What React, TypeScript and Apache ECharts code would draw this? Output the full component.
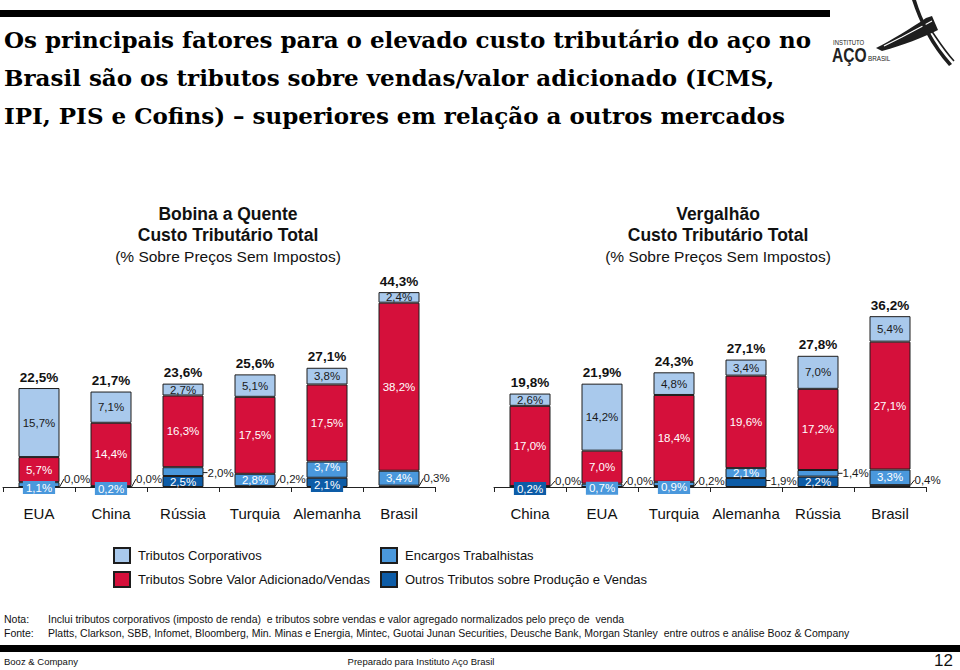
import React, { useEffect, useRef } from "react";
import * as echarts from "echarts";

// ---------- data ----------
const leftCats = ["EUA", "China", "Rússia", "Turquia", "Alemanha", "Brasil"];
const rightCats = ["China", "EUA", "Turquia", "Alemanha", "Rússia", "Brasil"];

const nameOutros = "Outros Tributos sobre Produção e Vendas";
const nameEncargos = "Encargos Trabalhistas";
const nameValor = "Tributos Sobre Valor Adicionado/Vendas";
const nameCorp = "Tributos Corporativos";

const leftOutros = [0.0, 0.0, 2.5, 0.2, 2.1, 0.3];
const leftEncargos = [1.1, 0.2, 2.0, 2.8, 3.7, 3.4];
const leftValor = [5.7, 14.4, 16.3, 17.5, 17.5, 38.2];
const leftCorp = [15.7, 7.1, 2.7, 5.1, 3.8, 2.4];
const leftTotal = [22.5, 21.7, 23.6, 25.6, 27.1, 44.3];

const rightOutros = [0.2, 0.0, 0.2, 1.9, 2.2, 0.4];
const rightEncargos = [0.0, 0.7, 0.9, 2.1, 1.4, 3.3];
const rightValor = [17.0, 7.0, 18.4, 19.6, 17.2, 27.1];
const rightCorp = [2.6, 14.2, 4.8, 3.4, 7.0, 5.4];
const rightTotal = [19.8, 21.9, 24.3, 27.1, 27.8, 36.2];

// ---------- label styling (how each small segment is labelled) ----------
// "in" = inside, "box" = inside with a filled box pushed down, "call" = callout to the right
const leftOutrosMode = ["call", "call", "in", "call", "box", "call"];
const leftEncargosMode = ["box", "box", "call", "in", "in", "in"];
const rightOutrosMode = ["box", "call", "call", "call", "in", "call"];
const rightEncargosMode = ["call", "box", "box", "in", "call", "in"];
const leftOutrosDy = [-8, -8, 0, -8, 3, -8];
const leftEncargosDy = [3, 2, 1, 0, -3, 0];
const rightOutrosDy = [2, -6, -6, -2, 0, -6];
const rightEncargosDy = [-5, 3, 3.5, 0, 0, 0];
const zeroDy = [0, 0, 0, 0, 0, 0];

const SANS = "'Liberation Sans', Arial, Helvetica, sans-serif";
const SERIF = "'DejaVu Serif', 'Liberation Serif', serif";

const C_CORP = "#a9c9ec";
const C_VALOR = "#d5103b";
const C_ENC = "#4a98dc";
const C_OUT = "#0d5ca7";
const BORDER = "#1d1d1d";

// logo shapes
echarts.graphic.registerShape(
  "logoBand",
  echarts.graphic.extendPath("M0 34 C14 27 34 15 50 4 L56 2 L62 16 C46 24 28 31 6 37 Z", {})
);
echarts.graphic.registerShape(
  "logoStroke",
  echarts.graphic.extendPath("M0 0 L4 0 C10 20 22 44 40 64 L37 66 C19 46 7 22 0 0 Z", {})
);

const fmt = (v: number) => v.toFixed(1).replace(".", ",") + "%";

function buildData(values: number[], modes: string[] | null, color: string, textColor: string) {
  return values.map((v, i) => {
    const mode = modes ? modes[i] : "in";
    if (mode === "call") {
      return {
        value: v,
        label: {
          show: true,
          position: "right",
          distance: 4,
          color: "#1a1a1a",
          fontSize: 11.5,
          fontFamily: SANS,
        },
        labelLine: { show: true, lineStyle: { color: "#1a1a1a", width: 1 } },
      };
    }
    if (mode === "box") {
      return {
        value: v,
        label: {
          show: true,
          position: "inside",
          color: "#ffffff",
          backgroundColor: color,
          padding: [1, 3, 0, 3],
          fontSize: 11.5,
          fontFamily: SANS,
        },
      };
    }
    return {
      value: v,
      label: {
        show: true,
        position: "inside",
        color: textColor,
        fontSize: 11.5,
        fontFamily: SANS,
      },
    };
  });
}

function stackSeries(idx: number, stack: string, outros: number[], enc: number[], valor: number[], corp: number[],
  outMode: string[], outDy: number[], encMode: string[], encDy: number[], total: number[]) {
  const common = (dys: number[]) => ({
    type: "bar",
    xAxisIndex: idx,
    yAxisIndex: idx,
    stack,
    barWidth: 41,
    barGap: "-100%",
    labelLayout: (p: any) => ({ dy: dys[p.dataIndex] || 0, hideOverlap: false }),
    label: { show: true, formatter: (p: any) => fmt(p.value), fontFamily: SANS },
  });
  return [
    { ...common(outDy), name: nameOutros, itemStyle: { color: C_OUT, borderColor: BORDER, borderWidth: 1 }, data: buildData(outros, outMode, C_OUT, "#fff") },
    { ...common(encDy), name: nameEncargos, itemStyle: { color: C_ENC, borderColor: BORDER, borderWidth: 1 }, data: buildData(enc, encMode, C_ENC, "#fff") },
    { ...common(zeroDy), name: nameValor, itemStyle: { color: C_VALOR, borderColor: BORDER, borderWidth: 1 }, data: buildData(valor, null, C_VALOR, "#fff") },
    { ...common(zeroDy), name: nameCorp, itemStyle: { color: C_CORP, borderColor: BORDER, borderWidth: 1 }, data: buildData(corp, null, C_CORP, "#1a1a1a") },
    {
      type: "bar",
      name: "Total",
      xAxisIndex: idx,
      yAxisIndex: idx,
      barWidth: 41,
      barGap: "-100%",
      silent: true,
      itemStyle: { color: "rgba(0,0,0,0)" },
      label: {
        show: true,
        position: "top",
        distance: 4,
        formatter: (p: any) => fmt(p.value),
        fontSize: 13.5,
        fontWeight: "bold",
        color: "#111",
        fontFamily: SANS,
      },
      data: total,
    },
  ];
}

function xAxis(idx: number, cats: string[]) {
  return {
    type: "category",
    gridIndex: idx,
    data: cats,
    boundaryGap: true,
    axisLine: { lineStyle: { color: "#222", width: 1 } },
    axisTick: { show: true, length: 5, lineStyle: { color: "#222" } },
    axisLabel: { interval: 0, fontSize: 15, color: "#111", margin: 19, fontFamily: SANS },
  };
}

function yAxis(idx: number, max: number) {
  return { type: "value", gridIndex: idx, min: 0, max, show: false, splitLine: { show: false } };
}

const txt = (x: number, y: number, text: string, size: number, opts: any = {}) => ({
  type: "text",
  x,
  y,
  scaleX: opts.scaleX || 1,
  style: {
    text,
    fontSize: size,
    fontFamily: opts.family || SANS,
    fontWeight: opts.weight || "normal",
    fill: opts.fill || "#111",
    align: opts.align || "left",
    verticalAlign: "middle",
  },
});

export default function App() {
  const ref = useRef<HTMLDivElement>(null);
  useEffect(() => {
    if (!ref.current) return;
    const chart = echarts.init(ref.current, null, { renderer: "svg" });
    const legendCommon = {
      orient: "vertical",
      top: 542,
      icon: "rect",
      itemWidth: 16,
      itemHeight: 15,
      itemGap: 7,
      selectedMode: false,
      textStyle: { fontSize: 13, color: "#111", fontFamily: SANS, padding: [0, 0, 0, 3] },
    };
    const option: any = {
      animation: false,
      backgroundColor: "#ffffff",
      textStyle: { fontFamily: SANS },
      grid: [
        { left: 3, width: 432, top: 260, height: 227 },
        { left: 494, width: 432, top: 260, height: 227 },
      ],
      xAxis: [xAxis(0, leftCats), xAxis(1, rightCats)],
      yAxis: [yAxis(0, 51.6), yAxis(1, 48.1)],
      legend: [
        { ...legendCommon, data: [nameCorp, nameValor], left: 108 },
        { ...legendCommon, data: [nameEncargos, nameOutros], left: 375 },
      ],
      series: [
        ...stackSeries(0, "L", leftOutros, leftEncargos, leftValor, leftCorp, leftOutrosMode, leftOutrosDy, leftEncargosMode, leftEncargosDy, leftTotal),
        ...stackSeries(1, "R", rightOutros, rightEncargos, rightValor, rightCorp, rightOutrosMode, rightOutrosDy, rightEncargosMode, rightEncargosDy, rightTotal),
      ],
      graphic: [
        // top bar
        { type: "rect", shape: { x: 0, y: 10, width: 830, height: 7 }, style: { fill: "#000" } },
        // title
        txt(4, 39, "Os principais fatores para o elevado custo tributário do aço no", 23, { family: SERIF, weight: "bold", fill: "#000" }),
        txt(4, 77, "Brasil são os tributos sobre vendas/valor adicionado (ICMS,", 23, { family: SERIF, weight: "bold", fill: "#000" }),
        txt(4, 115, "IPI, PIS e Cofins) – superiores em relação a outros mercados", 23, { family: SERIF, weight: "bold", fill: "#000" }),
        // logo
        { type: "logoBand", x: 876, y: 14, style: { fill: "#1e1e1e" } },
        { type: "polyline", shape: { points: [[884, 46], [902, 37], [919, 28], [932, 21]] }, style: { stroke: "#fff", lineWidth: 1.2, fill: null } },
        { type: "logoStroke", x: 912, y: 0, style: { fill: "#1e1e1e" } },
        { type: "bezierCurve", shape: { x1: 931, y1: 30, cpx1: 938, cpy1: 40, cpx2: 944, cpy2: 50, x2: 954, y2: 61 }, style: { stroke: "#1e1e1e", lineWidth: 1.6, fill: null } },
        txt(833, 42, "INSTITUTO", 7, { fill: "#222", scaleX: 0.85 }),
        txt(832, 55, "AÇO", 20, { weight: "bold", fill: "#222", scaleX: 0.78 }),
        txt(868, 58, "BRASIL", 7, { fill: "#222", scaleX: 0.9 }),
        // chart headings
        txt(228, 214, "Bobina a Quente", 17.5, { weight: "bold", align: "center" }),
        txt(228, 235, "Custo Tributário Total", 17.5, { weight: "bold", align: "center" }),
        txt(228, 256, "(% Sobre Preços Sem Impostos)", 15.5, { align: "center" }),
        txt(718, 214, "Vergalhão", 17.5, { weight: "bold", align: "center" }),
        txt(718, 235, "Custo Tributário Total", 17.5, { weight: "bold", align: "center" }),
        txt(718, 256, "(% Sobre Preços Sem Impostos)", 15.5, { align: "center" }),
        // footnotes
        txt(4, 619, "Nota:", 10.5),
        txt(48, 619, "Inclui tributos corporativos (imposto de renda)  e tributos sobre vendas e valor agregado normalizados pelo preço de  venda", 10.5),
        txt(4, 633, "Fonte:", 10.5),
        txt(48, 633, "Platts, Clarkson, SBB, Infomet, Bloomberg, Min. Minas e Energia, Mintec, Guotai Junan Securities, Deusche Bank, Morgan Stanley  entre outros e análise Booz & Company", 10.5),
        { type: "rect", shape: { x: 0, y: 645, width: 960, height: 7 }, style: { fill: "#000" } },
        txt(4, 661, "Booz & Company", 9.5),
        txt(421, 661, "Preparado para Instituto Aço Brasil", 9.5, { align: "center" }),
        txt(953, 660, "12", 17, { align: "right" }),
      ],
    };
    chart.setOption(option);
    return () => chart.dispose();
  }, []);
  return (
    <div
      ref={ref}
      style={{ position: "fixed", left: 0, top: 0, width: 960, height: 670, background: "#fff" }}
    />
  );
}
